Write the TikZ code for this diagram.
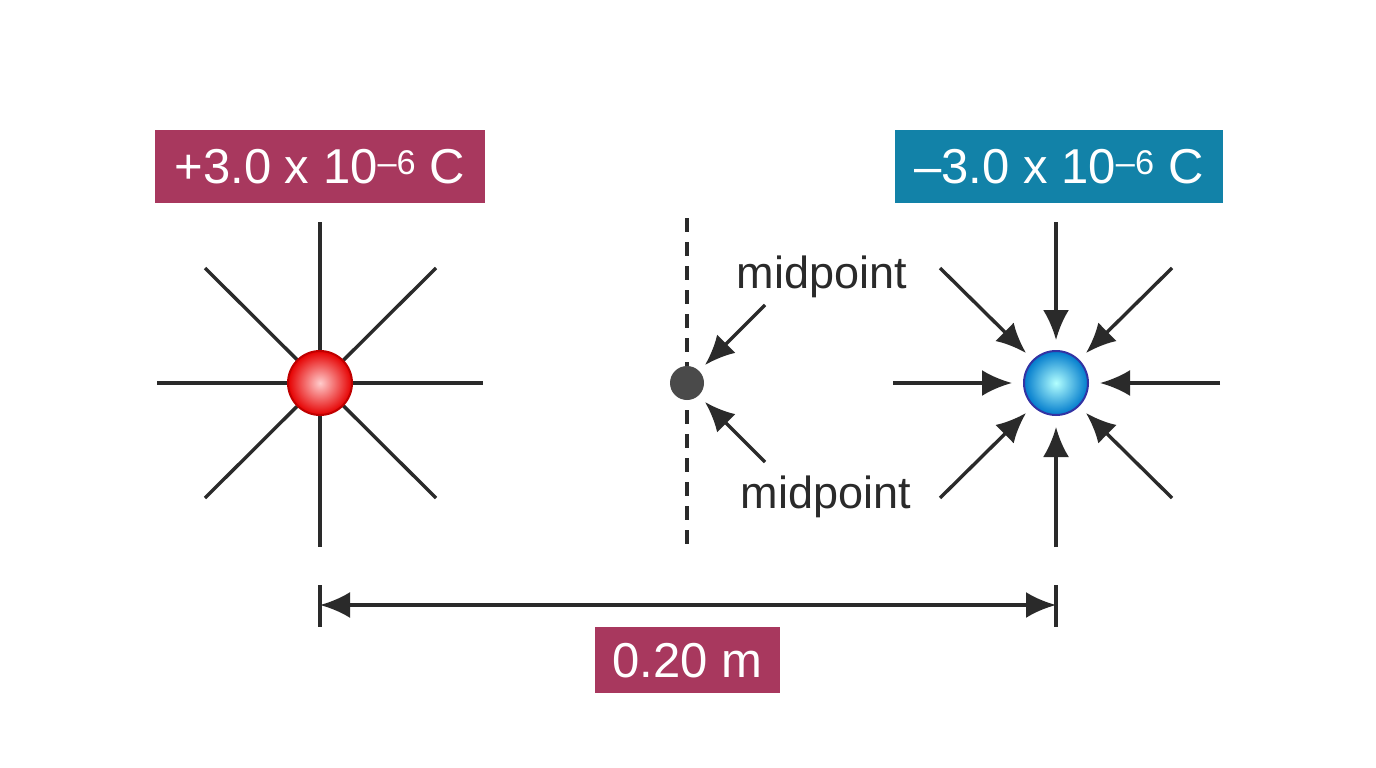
\documentclass[tikz,border=0pt]{standalone}
\usepackage{fontspec}
\setmainfont{Liberation Sans}
\usetikzlibrary{arrows.meta}
\definecolor{mag}{HTML}{A8385E}
\definecolor{teal}{HTML}{1282A8}
\definecolor{ink}{HTML}{2A2A2A}
\begin{document}
\begin{tikzpicture}[x=1pt,y=-1pt,
  ln/.style={draw=ink,line width=3.4pt},
  tip/.style={Latex[length=30pt,width=26pt]},
  ar/.style={ln,-{Latex[length=30pt,width=26pt]}},
  lab/.style={text=white,font=\fontsize{49}{56}\selectfont,inner sep=0pt,anchor=center},
  mid/.style={text=ink,font=\fontsize{45}{52}\selectfont}]
\useasboundingbox[fill=white] (0,0) rectangle (1376,768);
% labels
\fill[mag] (155,130) rectangle (485,203);
\node[lab] (qp) at (320,167) {+3.0 x 10\textsuperscript{–6} C};
\fill[teal] (895,130) rectangle (1223,203);
\node[lab] (qn) at (1059,167) {–3.0 x 10\textsuperscript{–6} C};
% positive charge lines
\draw[ln] (320,222) -- (320,547);
\draw[ln] (157,383) -- (483,383);
\draw[ln] (205,268) -- (436,498);
\draw[ln] (436,268) -- (205,498);
\shade[inner color=red!20!white,outer color=red!90!black] (320,383) circle (32);
\draw[red!75!black,line width=2pt] (320,383) circle (32);
\node (P) at (320,383) {};
% midpoint
\draw[ln,dash pattern=on 14pt off 10pt] (687,218) -- (687,547);
\fill[ink!85!white] (687,383) circle (17);
\node[circle,minimum size=34pt,inner sep=0pt] (M) at (687,383) {};
\node[mid] (m1) at (822,277) {midpoint};
\node[mid] (m2) at (826,497) {midpoint};
\coordinate (a1) at (765,305);
\coordinate (a2) at (765,462);
\draw[ar] (a1) -- (705,365);
\draw[ar] (a2) -- (705,402);
% negative charge
\shade[inner color=cyan!30!white,outer color=blue!40!cyan!80!black] (1056,383) circle (32);
\draw[blue!55!black!80,line width=2pt] (1056,383) circle (32);
\node (N) at (1056,383) {};
\foreach \sx/\sy/\ex/\ey in {1056/222/1056/340, 1056/547/1056/427, 893/383/1012/383, 1220/383/1100/383,
  940/268/1026/353, 1172/268/1086/353, 940/498/1026/413, 1172/498/1086/413}
  \draw[ar] (\sx,\sy) -- (\ex,\ey);
% dimension
\draw[ln] (320,585) -- (320,627);
\draw[ln] (1056,585) -- (1056,627);
\coordinate (d1) at (320,605);
\coordinate (d2) at (1056,605);
\draw[ln,{Latex[length=30pt,width=26pt]}-{Latex[length=30pt,width=26pt]}] (d1) -- (d2);
\fill[mag] (595,627) rectangle (780,693);
\node[lab] (dist) at (687.5,661) {0.20 m};
\end{tikzpicture}
\end{document}
